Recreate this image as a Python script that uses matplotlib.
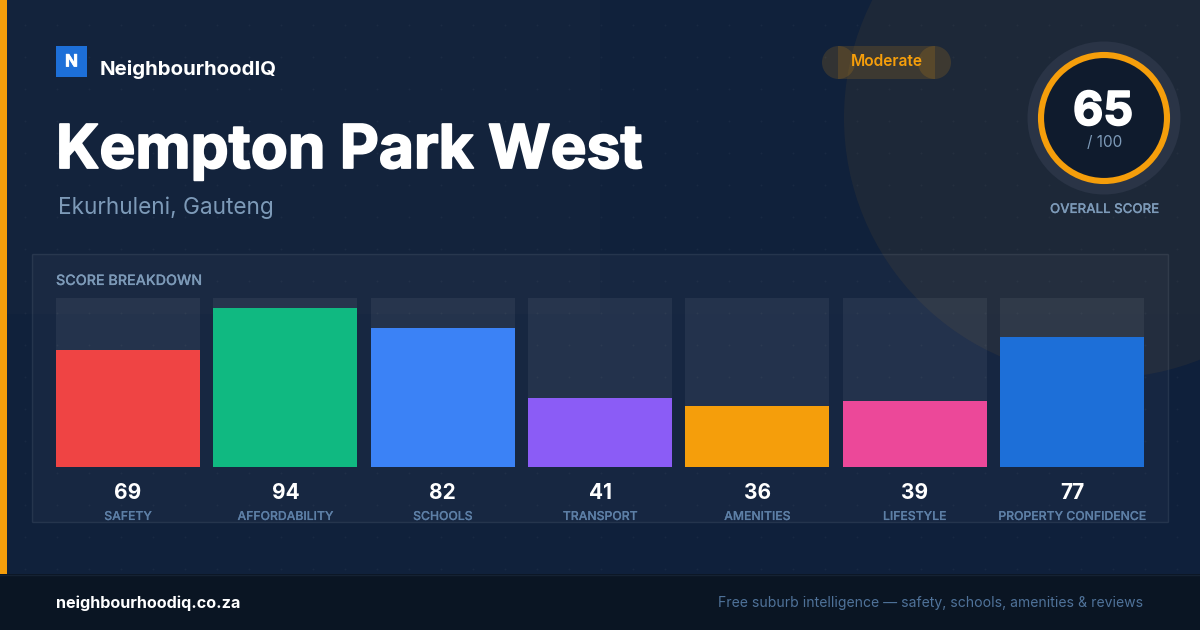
import matplotlib
matplotlib.use('Agg')
import matplotlib.patheffects as pe
import matplotlib.pyplot as plt
import numpy as np
from matplotlib.patches import Circle, Rectangle

# values
categories = ['SAFETY', 'AFFORDABILITY', 'SCHOOLS', 'TRANSPORT', 'AMENITIES', 'LIFESTYLE', 'PROPERTY CONFIDENCE']
scores = [69, 94, 82, 41, 36, 39, 77]
bar_colors = ['#ef4444', '#10b981', '#3b82f6', '#8b5cf6', '#f59e0b', '#ec4899', '#1d6fd8']
overall_score = 65

WIDTH, HEIGHT = 1200, 630
ORANGE = '#f59e0b'
plt.rcParams['font.family'] = ['Inter', 'DejaVu Sans']


def thicken(width, color):
    # Inter stops at bold here, the reference title is heavier
    return [pe.withStroke(linewidth=width, foreground=color)]


fig = plt.figure(figsize=(WIDTH / 100, HEIGHT / 100), dpi=100)

# background layer in pixel coordinates, y going down like the reference
bg = fig.add_axes([0, 0, 1, 1])
bg.axis('off')
gradient = np.array([[0.0, 0.5], [0.5, 1.0]])
bg.imshow(gradient, extent=(0, WIDTH, HEIGHT, 0), aspect='auto', zorder=0,
          cmap=matplotlib.colors.LinearSegmentedColormap.from_list('bg', ['#13233c', '#0f203b']))
bg.set_xlim(0, WIDTH)
bg.set_ylim(HEIGHT, 0)

dot_x, dot_y = np.meshgrid(np.arange(24.5, WIDTH, 32), np.arange(24.5, 574, 32))
bg.scatter(dot_x.ravel(), dot_y.ravel(), s=2.0, color='white', alpha=0.04, linewidths=0, zorder=1)

bg.add_patch(Circle((1104, 118), 260, color=ORANGE, alpha=0.06, lw=0, zorder=1))
bg.add_patch(Rectangle((0, 0), 7, 574, color=ORANGE, lw=0, zorder=2))

# score panel
bg.add_patch(Rectangle((32.5, 254.5), 1136, 268, facecolor=(1, 1, 1, 0.03),
                       edgecolor=(1, 1, 1, 0.08), lw=1, zorder=2, snap=False))

# footer
bg.add_patch(Rectangle((0, 574), WIDTH, 56, color='#0a1523', lw=0, zorder=3))
bg.plot([0, WIDTH], [574.5, 574.5], color='#152233', lw=1, zorder=4)

# logo
bg.add_patch(Rectangle((56, 46), 31, 31, color='#1d6fd8', lw=0, zorder=3))
bg.text(71.5, 66.5, 'N', color='white', fontsize=12.2, fontweight='bold', ha='center', va='baseline', zorder=4,
        path_effects=thicken(0.5, 'white'))
bg.text(100, 75, 'NeighbourhoodIQ', color='white', fontsize=14.7, fontweight='bold', va='baseline', zorder=4)

# title
bg.text(56, 168, 'Kempton Park West', color='white', fontsize=43.5, fontweight='bold', va='baseline', zorder=4,
        path_effects=thicken(1.3, 'white'))
bg.text(58, 214, 'Ekurhuleni, Gauteng', color='#7d9ab8', fontsize=16.25, va='baseline', zorder=4)

# badge, the end caps overlap the body as in the reference
badge_color = (0.96, 0.62, 0.04, 0.15)
bg.add_patch(Rectangle((838, 46), 97, 33, color=badge_color, lw=0, zorder=3))
bg.add_patch(Circle((838.5, 62.5), 16.5, color=badge_color, lw=0, zorder=3))
bg.add_patch(Circle((934.5, 62.5), 16.5, color=badge_color, lw=0, zorder=3))
bg.text(886.5, 66.5, 'Moderate', color=ORANGE, fontsize=11.2, fontweight='semibold',
        ha='center', va='baseline', zorder=4)

# score ring
bg.add_patch(Circle((1104, 118), 76.5, color='#2a3446', lw=0, zorder=3))
bg.add_patch(Circle((1104, 118), 63, facecolor='#0f1b2d', edgecolor=ORANGE, lw=4.4, zorder=4))
bg.text(1103, 125, str(overall_score), color='white', fontsize=33.6, fontweight='bold',
        ha='center', va='baseline', zorder=5, path_effects=thicken(1.2, 'white'))
bg.text(1104.5, 147, '/ 100', color='#7d9ab8', fontsize=11, ha='center', va='baseline', zorder=5)
bg.text(1104.5, 213, 'OVERALL SCORE', color='#7d9ab8', fontsize=9.55, fontweight='medium',
        ha='center', va='baseline', zorder=5, path_effects=thicken(0.1, '#7d9ab8'))

bg.text(56, 285, 'SCORE BREAKDOWN', color='#7d9ab8', fontsize=10.3, fontweight='medium', va='baseline', zorder=5,
        path_effects=thicken(0.1, '#7d9ab8'))

# footer text
bg.text(56, 608, 'neighbourhoodiq.co.za', color='white', fontsize=11.65, fontweight='bold', va='baseline', zorder=5)
bg.text(1143, 606.5, 'Free suburb intelligence \u2014 safety, schools, amenities & reviews', color='#4f7299',
        fontsize=10.1, ha='right', va='baseline', zorder=5)

# bars: 0-100 spans y 467 to 298, slots sit 157.33px apart and bars are 144px wide
ax = fig.add_axes([56 / WIDTH, (HEIGHT - 467) / HEIGHT, 1088 / WIDTH, 169 / HEIGHT])
ax.patch.set_alpha(0)
positions = np.arange(len(scores))
bar_width = 144 / (1088 - 144) * 6
ax.bar(positions, [100] * len(scores), width=bar_width, color=(1, 1, 1, 0.06), linewidth=0)
ax.bar(positions, scores, width=bar_width, color=bar_colors, linewidth=0)
ax.set_xlim(-bar_width / 2, 6 + bar_width / 2)
ax.set_ylim(0, 100)
ax.axis('off')

for x, score, name in zip(positions, scores, categories):
    ax.annotate(str(score), (x, 0), xytext=(0, -32), textcoords='offset pixels', color='white',
                fontsize=15, fontweight='bold', ha='center', va='baseline', annotation_clip=False)
    ax.annotate(name, (x, 0), xytext=(0, -53), textcoords='offset pixels', color='#5d7fa6',
                fontsize=8.8, fontweight='medium', ha='center', va='baseline', annotation_clip=False,
                path_effects=thicken(0.1, '#5d7fa6'))

fig.savefig('out.png', dpi=100)
